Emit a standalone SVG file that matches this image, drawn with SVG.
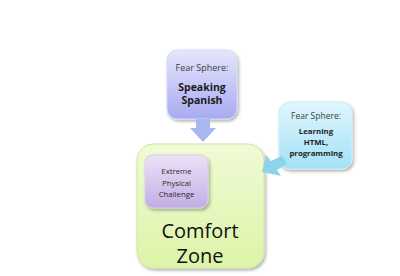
<svg xmlns="http://www.w3.org/2000/svg" width="400" height="276" viewBox="0 0 400 276">
<style>
text{font-family:"Open Sans","Liberation Sans",sans-serif;text-anchor:middle;fill:#1a1a1a}
.sm{font-size:8.5px;fill:#404040}
.xs{font-size:7.8px}
.b{font-weight:bold}
.big{font-size:20px;fill:#111}
</style>
<defs>
<filter id="sh" x="-20%" y="-20%" width="150%" height="150%">
<feDropShadow dx="1.5" dy="2" stdDeviation="1.6" flood-color="#000" flood-opacity="0.3"/>
</filter>
<linearGradient id="gg" x1="0" y1="0" x2="0" y2="1"><stop offset="0" stop-color="#f0fbd6"/><stop offset="1" stop-color="#dcf4a8"/></linearGradient>
<linearGradient id="gb" x1="0" y1="0" x2="0" y2="1"><stop offset="0" stop-color="#e6e6fc"/><stop offset="1" stop-color="#a7aaf0"/></linearGradient>
<linearGradient id="gc" x1="0" y1="0" x2="0" y2="1"><stop offset="0" stop-color="#dff6fd"/><stop offset="1" stop-color="#a3e1f6"/></linearGradient>
<linearGradient id="gp" x1="0" y1="0" x2="0" y2="1"><stop offset="0" stop-color="#ece2f8"/><stop offset="1" stop-color="#c3ade4"/></linearGradient>
</defs>
<g id="comfort-zone">
<rect x="137" y="144" width="127" height="124" rx="16" fill="url(#gg)" stroke="#cfe6a0" stroke-width="1" filter="url(#sh)"/>
<text class="big" x="200" y="238">Comfort</text>
<text class="big" x="200" y="263">Zone</text>
</g>
<g id="extreme">
<rect x="145" y="155" width="63" height="53" rx="8" fill="url(#gp)" stroke="#d8cdea" stroke-width="1" filter="url(#sh)"/>
<text class="sm xs" x="176.5" y="174" style="fill:#2a2a2a">Extreme</text>
<text class="sm xs" x="176.5" y="185.5" style="fill:#2a2a2a">Physical</text>
<text class="sm xs" x="176.5" y="197" style="fill:#2a2a2a">Challenge</text>
</g>
<g id="speaking">
<rect x="167" y="50" width="70" height="69" rx="10" fill="url(#gb)" stroke="#d6d8f6" stroke-width="1" filter="url(#sh)"/>
<text class="sm" x="202" y="71" style="font-size:9px">Fear Sphere:</text>
<text class="b" x="202" y="91" style="font-size:10.5px">Speaking</text>
<text class="b" x="202" y="104" style="font-size:10.5px">Spanish</text>
</g>
<g id="learning">
<rect x="279" y="102" width="73" height="67" rx="10" fill="url(#gc)" stroke="#cdeef8" stroke-width="1" filter="url(#sh)"/>
<text class="sm" x="316" y="119">Fear Sphere:</text>
<text class="sm xs b" x="316" y="134" style="fill:#222">Learning</text>
<text class="sm xs b" x="316" y="145" style="fill:#222">HTML,</text>
<text class="sm xs b" x="316" y="156" style="fill:#222">programming</text>
</g>
<g id="connectors">
<polygon points="196,119 210,119 210,128 216,128 203,142 190,128 196,128" fill="#a9b7f1"/>
<polygon points="282,156 287,164 277,170 281,176 262,172 266,155 271,161" fill="#8dd3ec"/>
</g>
</svg>
